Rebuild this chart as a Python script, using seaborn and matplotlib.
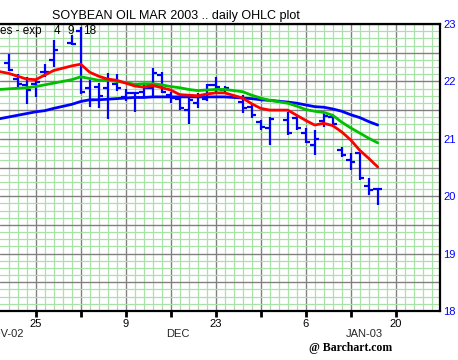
import numpy as np
import pandas as pd
import matplotlib
matplotlib.use("Agg")
import matplotlib.pyplot as plt
import seaborn as sns
from matplotlib.ticker import MultipleLocator, FixedLocator, FuncFormatter
import matplotlib.transforms as mtransforms

sns.set_theme(style="white")
plt.rcParams['font.family'] = ['Liberation Sans', 'DejaVu Sans']

# ---------------- data ----------------
origin = "2002-11-19"
bar_dates = ["2002-11-20", "2002-11-21", "2002-11-22", "2002-11-25", "2002-11-26", "2002-11-27", "2002-11-29",
             "2002-12-02", "2002-12-03", "2002-12-04", "2002-12-05", "2002-12-06",
             "2002-12-09", "2002-12-10", "2002-12-11", "2002-12-12", "2002-12-13",
             "2002-12-16", "2002-12-17", "2002-12-18", "2002-12-19", "2002-12-20",
             "2002-12-23", "2002-12-24", "2002-12-26", "2002-12-27",
             "2002-12-30", "2002-12-31", "2003-01-02", "2003-01-03",
             "2003-01-06", "2003-01-07", "2003-01-08", "2003-01-09", "2003-01-10",
             "2003-01-13", "2003-01-14", "2003-01-15", "2003-01-16"]
opens = [22.32, 22.04, 21.94, 21.95, 22.17, 22.37, 22.67, 22.87, 21.89, 21.91, 21.88, 21.95, 21.73,
         21.79, 21.82, 21.89, 22.11, 21.76, 21.69, 21.51, 21.63, 21.69, 21.94, 21.85, 21.64, 21.56,
         21.29, 21.19, 21.32, 21.36, 21.10, 20.89, 21.31, 21.38, 20.80, 20.63, 20.75, 20.17, 20.12]
highs = [22.48, 22.13, 22.08, 22.02, 22.30, 22.72, 22.80, 22.95, 22.02, 21.97, 22.15, 22.13, 21.86,
         21.82, 21.97, 22.23, 22.17, 21.82, 21.73, 21.73, 21.79, 21.95, 22.08, 21.92, 21.76, 21.59,
         21.32, 21.38, 21.47, 21.39, 21.18, 21.16, 21.45, 21.41, 20.86, 20.75, 20.75, 20.32, 20.14]
lows = [22.18, 21.90, 21.61, 21.73, 22.08, 22.25, 22.63, 21.78, 21.55, 21.54, 21.35, 21.83, 21.66,
        21.47, 21.73, 21.75, 21.80, 21.62, 21.50, 21.26, 21.54, 21.65, 21.82, 21.82, 21.45, 21.36,
        21.15, 20.89, 21.07, 21.15, 20.92, 20.72, 21.21, 21.21, 20.69, 20.46, 20.28, 20.02, 19.85]
closes = [22.20, 21.95, 21.85, 21.99, 22.17, 22.54, 22.66, 21.82, 21.68, 21.75, 22.02, 21.89, 21.80,
          21.79, 21.89, 22.14, 21.82, 21.71, 21.53, 21.68, 21.73, 21.94, 21.90, 21.89, 21.53, 21.41,
          21.21, 21.35, 21.10, 21.18, 20.95, 21.00, 21.40, 21.26, 20.71, 20.60, 20.31, 20.11, 20.12]

ma_dates = ["2002-11-19"] + bar_dates
ema4 = [22.17, 22.14, 22.09, 22.04, 22.03, 22.11, 22.19, 22.27, 22.30, 22.16, 22.09, 22.04, 22.02,
        21.97, 21.92, 21.90, 21.93, 21.89, 21.85, 21.77, 21.76, 21.75, 21.78, 21.80, 21.80, 21.71,
        21.61, 21.53, 21.50, 21.50, 21.41, 21.32, 21.24, 21.27, 21.23, 21.12, 20.98, 20.80, 20.66, 20.51]
ema9 = [21.86, 21.87, 21.88, 21.89, 21.91, 21.94, 21.97, 22.03, 22.08, 22.05, 22.02, 22.02, 22.00,
        21.98, 21.95, 21.96, 21.96, 21.94, 21.91, 21.89, 21.86, 21.84, 21.85, 21.86, 21.86, 21.82,
        21.76, 21.71, 21.67, 21.62, 21.57, 21.51, 21.48, 21.46, 21.41, 21.29, 21.19, 21.10, 21.01, 20.93]
ema18 = [21.35, 21.38, 21.41, 21.44, 21.47, 21.49, 21.53, 21.60, 21.65, 21.68, 21.68, 21.69, 21.70,
         21.71, 21.72, 21.72, 21.73, 21.73, 21.73, 21.73, 21.73, 21.73, 21.73, 21.73, 21.73, 21.71,
         21.70, 21.68, 21.67, 21.64, 21.62, 21.59, 21.56, 21.55, 21.52, 21.48, 21.42, 21.37, 21.30, 21.24]

week_dates = ["2002-11-18", "2002-11-25", "2002-12-02", "2002-12-09", "2002-12-16", "2002-12-23",
              "2002-12-30", "2003-01-06", "2003-01-13", "2003-01-20"]
week_labels = ["", "25", "", "9", "", "23", "", "6", "", "20"]
month_labels = ["NOV-02", "DEC", "JAN-03"]
y_labels = ["18", "19", "20", "21", "22", "23"]
title = "SOYBEAN OIL MAR 2003 .. daily OHLC plot"
legend_words = ["es - exp", "4", "9", "18"]

# ---------------- positions ----------------
bx = np.busday_count(origin, bar_dates).astype(float)
mx = np.busday_count(origin, ma_dates).astype(float)
wx = np.busday_count(origin, week_dates).astype(float)

W, H = 458, 360
fig = plt.figure(figsize=(W / 100, H / 100), dpi=100)
fig.patch.set_facecolor("white")
ax = fig.add_axes([0, 1 - 311 / H, 440 / W, (311 - 24) / H])
ax.set_facecolor("white")

# bars
bar_c = "#0000ff"
ax.vlines(bx, lows, highs, color=bar_c, lw=1.6, zorder=3)
ax.hlines(opens, bx - 0.5, bx, color=bar_c, lw=1.6, zorder=3)
ax.hlines(closes, bx, bx + 0.5, color=bar_c, lw=1.6, zorder=3)

df = pd.DataFrame({"x": mx, "ema4": ema4, "ema9": ema9, "ema18": ema18})
sns.lineplot(data=df, x="x", y="ema18", color="#0000ff", lw=2.0, ax=ax, zorder=4)
sns.lineplot(data=df, x="x", y="ema9", color="#00c000", lw=2.0, ax=ax, zorder=5)
sns.lineplot(data=df, x="x", y="ema4", color="#ff0000", lw=2.0, ax=ax, zorder=6)
ax.set_xlabel("")
ax.set_ylabel("")

ax.set_xlim(0.3 / 9, 440.3 / 9)
ax.set_ylim(18, 23)

# ticks and grid
ax.xaxis.set_major_locator(FixedLocator(wx))
ax.set_xticklabels(week_labels)
ax.xaxis.set_minor_locator(MultipleLocator(1))
ax.yaxis.set_major_locator(MultipleLocator(0.5))
ax.yaxis.set_major_formatter(FuncFormatter(lambda v, p: y_labels[int(round(v - 18))] if abs(v - round(v)) < 1e-6 else ""))
ax.yaxis.set_minor_locator(MultipleLocator(0.125))
ax.yaxis.tick_right()

ax.tick_params(axis="x", which="major", direction="out", length=4, width=2, color="black",
               labelsize=8, pad=1.5, labelcolor="black", bottom=True)
ax.tick_params(axis="x", which="minor", length=0)
ax.tick_params(axis="y", which="both", length=0, labelsize=8, labelcolor="#0000ff", pad=2.5, right=True)

ax.grid(which="minor", color="#a8e2a8", lw=0.9, zorder=0)
ax.grid(which="major", color="#808080", lw=1.0, zorder=1)
ax.set_axisbelow(True)

for s in ["top", "bottom", "right"]:
    ax.spines[s].set_visible(True)
    ax.spines[s].set_color("black")
    ax.spines[s].set_linewidth(1.6)
ax.spines["left"].set_visible(False)

# month labels
trans = mtransforms.blended_transform_factory(ax.transData, fig.transFigure)
ax.text(24.3 / 9, 1 - 334 / H, month_labels[0], transform=trans, ha="right", va="center", fontsize=8, clip_on=False)
ax.text(177.8 / 9, 1 - 334 / H, month_labels[1], transform=trans, ha="center", va="center", fontsize=8, clip_on=False)
ax.text(364.8 / 9, 1 - 334 / H, month_labels[2], transform=trans, ha="center", va="center", fontsize=8, clip_on=False)

# header texts
fig.text(176 / W, 1 - 16.5 / H, title, ha="center", va="center", fontsize=9, color="black")
fig.text(0 / W, 1 - 31 / H, legend_words[0], ha="left", va="center", fontsize=8.5, color="black")
fig.text(56.5 / W, 1 - 31 / H, legend_words[1], ha="center", va="center", fontsize=8.5, color="black")
fig.text(71 / W, 1 - 31 / H, legend_words[2], ha="center", va="center", fontsize=8.5, color="black")
fig.text(90 / W, 1 - 31 / H, legend_words[3], ha="center", va="center", fontsize=8.5, color="black")
fig.text(350.5 / W, 1 - 348 / H, "@ Barchart.com", ha="center", va="center", fontsize=8.5,
         family=["Liberation Serif", "DejaVu Serif"], weight="bold", color="black")

fig.savefig("out.png", dpi=100, facecolor="white")
